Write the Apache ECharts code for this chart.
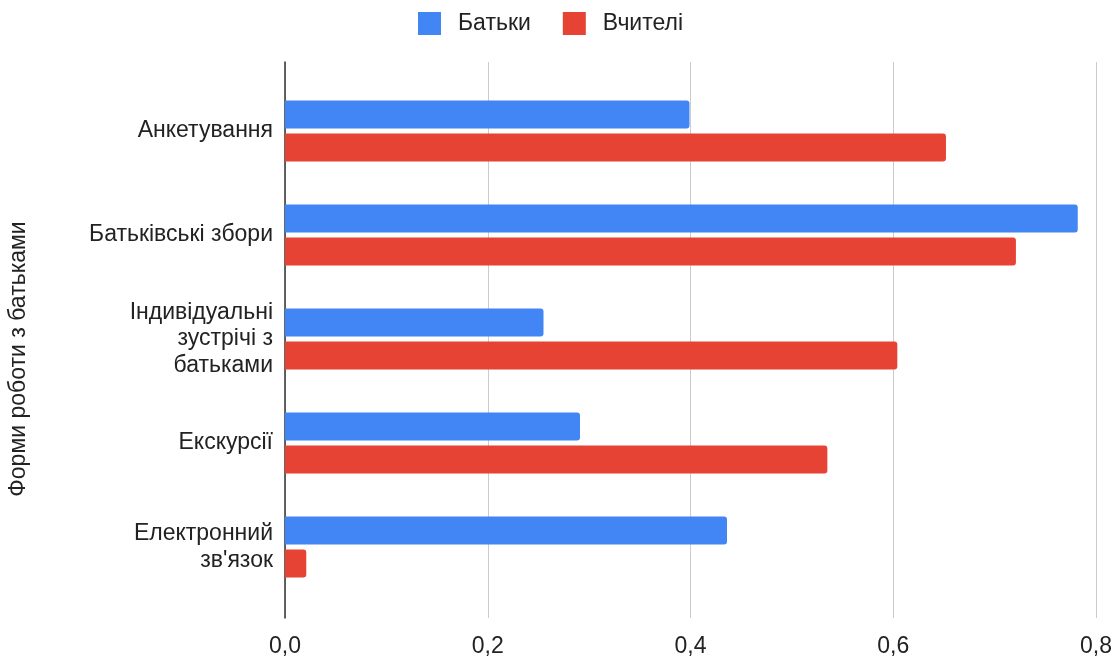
<!DOCTYPE html>
<html>
<head>
<meta charset="utf-8">
<script src="https://cdn.jsdelivr.net/npm/echarts@6/dist/echarts.min.js"></script>
<style>
html,body{margin:0;padding:0;background:#fff;}
#chart{width:1115px;height:657px;}
</style>
</head>
<body>
<div id="chart"></div>
<script>
const categories = [
  "Анкетування",
  "Батьківські збори",
  "Індивідуальні\nзустрічі з\nбатьками",
  "Екскурсії",
  "Електронний\nзв'язок"
];
const seriesNames = ["Батьки", "Вчителі"];
const parentsValues = [0.399, 0.782, 0.255, 0.291, 0.436];
const teachersValues = [0.652, 0.721, 0.604, 0.535, 0.021];
const xTicks = [0, 0.2, 0.4, 0.6, 0.8];
const yAxisTitle = "Форми роботи з батьками";

const font = "'Liberation Sans', Arial, sans-serif";
const FS = 23;
const xMin = xTicks[0], xMax = xTicks[xTicks.length - 1];
const chart = echarts.init(document.getElementById('chart'));
chart.setOption({
  animation: false,
  textStyle: { fontFamily: font },
  legend: {
    top: 7,
    left: 413,
    itemWidth: 23,
    itemHeight: 23,
    itemGap: 32,
    icon: 'rect',
    textStyle: { fontSize: FS, color: '#222', fontFamily: font, padding: [0, 0, 0, 12] },
    data: seriesNames
  },
  graphic: [{
    type: 'text',
    x: 19, y: 359,
    rotation: Math.PI / 2,
    style: {
      text: yAxisTitle, fontSize: FS, fill: '#222', fontFamily: font,
      align: 'center', verticalAlign: 'middle'
    }
  }],
  grid: [
    { left: 285, right: 19, top: 62, bottom: 39, outerBoundsMode: 'none' },
    { left: 285, right: 19, top: 79, bottom: 58, outerBoundsMode: 'none' }
  ],
  xAxis: [{
    type: 'value', gridIndex: 0,
    min: xMin, max: xMax, interval: 0.2,
    axisLine: { show: false },
    axisTick: { show: false },
    splitLine: { lineStyle: { color: '#cccccc', width: 1 } },
    axisLabel: {
      fontSize: FS, color: '#222', margin: 17, fontFamily: font,
      formatter: v => v.toFixed(1).replace('.', ',')
    }
  }, {
    type: 'value', gridIndex: 1,
    min: xMin, max: xMax, interval: 0.2,
    show: false
  }],
  yAxis: [{
    type: 'value', gridIndex: 0,
    min: 0, max: 1,
    axisLine: { show: true, lineStyle: { color: '#333', width: 1.5 } },
    axisTick: { show: false },
    axisLabel: { show: false },
    splitLine: { show: false }
  }, {
    type: 'category', gridIndex: 1,
    inverse: true,
    data: categories,
    axisLine: { show: false },
    axisTick: { show: false },
    axisLabel: { fontSize: FS, color: '#222', margin: 12, lineHeight: 26.5, align: 'right', fontFamily: font, padding: [3, 0, 0, 0] }
  }],
  series: [
    {
      name: seriesNames[0], type: 'bar', data: parentsValues,
      xAxisIndex: 1, yAxisIndex: 1,
      barWidth: 28, barGap: '18%',
      itemStyle: { color: '#4285F4', borderRadius: [0, 3, 3, 0] }
    },
    {
      name: seriesNames[1], type: 'bar', data: teachersValues,
      xAxisIndex: 1, yAxisIndex: 1,
      barWidth: 28, barGap: '18%',
      itemStyle: { color: '#E64335', borderRadius: [0, 3, 3, 0] }
    }
  ]
});
</script>
</body>
</html>
